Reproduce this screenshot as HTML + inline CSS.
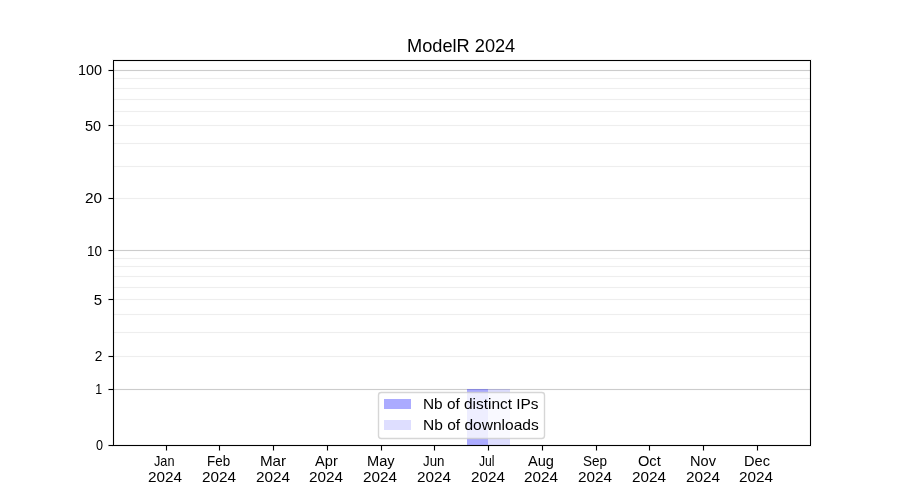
<!DOCTYPE html><html><head><meta charset="utf-8"><title>ModelR 2024</title><style>html,body{margin:0;padding:0;background:#fff;width:900px;height:500px;overflow:hidden}svg{display:block;position:absolute;left:0;top:0}svg.t{filter:grayscale(1)}text{font-family:"Liberation Sans", sans-serif;fill:#000}</style></head><body>
<svg width="900" height="500" viewBox="0 0 900 500">
<rect x="0" y="0" width="900" height="500" fill="#fff"/>
<rect x="113" y="355" width="698" height="3" fill="#fefefe"/>
<rect x="113" y="331" width="698" height="3" fill="#fefefe"/>
<rect x="113" y="313" width="698" height="3" fill="#fefefe"/>
<rect x="113" y="298" width="698" height="3" fill="#fefefe"/>
<rect x="113" y="286" width="698" height="3" fill="#fefefe"/>
<rect x="113" y="275" width="698" height="3" fill="#fefefe"/>
<rect x="113" y="265" width="698" height="3" fill="#fefefe"/>
<rect x="113" y="257" width="698" height="3" fill="#fefefe"/>
<rect x="113" y="197" width="698" height="3" fill="#fefefe"/>
<rect x="113" y="165" width="698" height="3" fill="#fefefe"/>
<rect x="113" y="142" width="698" height="3" fill="#fefefe"/>
<rect x="113" y="124" width="698" height="3" fill="#fefefe"/>
<rect x="113" y="110" width="698" height="3" fill="#fefefe"/>
<rect x="113" y="98" width="698" height="3" fill="#fefefe"/>
<rect x="113" y="87" width="698" height="3" fill="#fefefe"/>
<rect x="113" y="77" width="698" height="3" fill="#fefefe"/>
<rect x="113" y="388" width="698" height="3" fill="#fcfcfc"/>
<rect x="113" y="249" width="698" height="3" fill="#fcfcfc"/>
<rect x="113" y="69" width="698" height="3" fill="#fcfcfc"/>
<rect x="113" y="356" width="698" height="1" fill="#eee"/>
<rect x="113" y="332" width="698" height="1" fill="#eee"/>
<rect x="113" y="314" width="698" height="1" fill="#eee"/>
<rect x="113" y="299" width="698" height="1" fill="#eee"/>
<rect x="113" y="287" width="698" height="1" fill="#eee"/>
<rect x="113" y="276" width="698" height="1" fill="#eee"/>
<rect x="113" y="266" width="698" height="1" fill="#eee"/>
<rect x="113" y="258" width="698" height="1" fill="#eee"/>
<rect x="113" y="198" width="698" height="1" fill="#eee"/>
<rect x="113" y="166" width="698" height="1" fill="#eee"/>
<rect x="113" y="143" width="698" height="1" fill="#eee"/>
<rect x="113" y="125" width="698" height="1" fill="#eee"/>
<rect x="113" y="111" width="698" height="1" fill="#eee"/>
<rect x="113" y="99" width="698" height="1" fill="#eee"/>
<rect x="113" y="88" width="698" height="1" fill="#eee"/>
<rect x="113" y="78" width="698" height="1" fill="#eee"/>
<rect x="113" y="389" width="698" height="1" fill="#ccc"/>
<rect x="113" y="250" width="698" height="1" fill="#ccc"/>
<rect x="113" y="70" width="698" height="1" fill="#ccc"/>
<rect x="467" y="389" width="21" height="56" fill="#00f" fill-opacity="0.33"/>
<rect x="488" y="389" width="22" height="56" fill="#00f" fill-opacity="0.13"/>
<rect x="112" y="59" width="700" height="1" fill="#000" fill-opacity="0.055"/>
<rect x="112" y="61" width="700" height="1" fill="#000" fill-opacity="0.055"/>
<rect x="112" y="444" width="700" height="1" fill="#000" fill-opacity="0.055"/>
<rect x="112" y="446" width="700" height="1" fill="#000" fill-opacity="0.055"/>
<rect x="112" y="62" width="1" height="382" fill="#000" fill-opacity="0.055"/>
<rect x="114" y="62" width="1" height="382" fill="#000" fill-opacity="0.055"/>
<rect x="809" y="62" width="1" height="382" fill="#000" fill-opacity="0.055"/>
<rect x="811" y="62" width="1" height="382" fill="#000" fill-opacity="0.055"/>
<rect x="108" y="444" width="5" height="1" fill="#000" fill-opacity="0.055"/>
<rect x="108" y="446" width="5" height="1" fill="#000" fill-opacity="0.055"/>
<rect x="109" y="445" width="4" height="1" fill="#000"/>
<rect x="108" y="445" width="1" height="1" fill="#000" fill-opacity="0.5"/>
<rect x="108" y="388" width="5" height="1" fill="#000" fill-opacity="0.055"/>
<rect x="108" y="390" width="5" height="1" fill="#000" fill-opacity="0.055"/>
<rect x="109" y="389" width="4" height="1" fill="#000"/>
<rect x="108" y="389" width="1" height="1" fill="#000" fill-opacity="0.5"/>
<rect x="108" y="355" width="5" height="1" fill="#000" fill-opacity="0.055"/>
<rect x="108" y="357" width="5" height="1" fill="#000" fill-opacity="0.055"/>
<rect x="109" y="356" width="4" height="1" fill="#000"/>
<rect x="108" y="356" width="1" height="1" fill="#000" fill-opacity="0.5"/>
<rect x="108" y="298" width="5" height="1" fill="#000" fill-opacity="0.055"/>
<rect x="108" y="300" width="5" height="1" fill="#000" fill-opacity="0.055"/>
<rect x="109" y="299" width="4" height="1" fill="#000"/>
<rect x="108" y="299" width="1" height="1" fill="#000" fill-opacity="0.5"/>
<rect x="108" y="249" width="5" height="1" fill="#000" fill-opacity="0.055"/>
<rect x="108" y="251" width="5" height="1" fill="#000" fill-opacity="0.055"/>
<rect x="109" y="250" width="4" height="1" fill="#000"/>
<rect x="108" y="250" width="1" height="1" fill="#000" fill-opacity="0.5"/>
<rect x="108" y="197" width="5" height="1" fill="#000" fill-opacity="0.055"/>
<rect x="108" y="199" width="5" height="1" fill="#000" fill-opacity="0.055"/>
<rect x="109" y="198" width="4" height="1" fill="#000"/>
<rect x="108" y="198" width="1" height="1" fill="#000" fill-opacity="0.5"/>
<rect x="108" y="124" width="5" height="1" fill="#000" fill-opacity="0.055"/>
<rect x="108" y="126" width="5" height="1" fill="#000" fill-opacity="0.055"/>
<rect x="109" y="125" width="4" height="1" fill="#000"/>
<rect x="108" y="125" width="1" height="1" fill="#000" fill-opacity="0.5"/>
<rect x="108" y="69" width="5" height="1" fill="#000" fill-opacity="0.055"/>
<rect x="108" y="71" width="5" height="1" fill="#000" fill-opacity="0.055"/>
<rect x="109" y="70" width="4" height="1" fill="#000"/>
<rect x="108" y="70" width="1" height="1" fill="#000" fill-opacity="0.5"/>
<rect x="165" y="446" width="1" height="5" fill="#000" fill-opacity="0.055"/>
<rect x="167" y="446" width="1" height="5" fill="#000" fill-opacity="0.055"/>
<rect x="166" y="446" width="1" height="4" fill="#000"/>
<rect x="166" y="450" width="1" height="1" fill="#000" fill-opacity="0.5"/>
<rect x="218" y="446" width="1" height="5" fill="#000" fill-opacity="0.055"/>
<rect x="220" y="446" width="1" height="5" fill="#000" fill-opacity="0.055"/>
<rect x="219" y="446" width="1" height="4" fill="#000"/>
<rect x="219" y="450" width="1" height="1" fill="#000" fill-opacity="0.5"/>
<rect x="272" y="446" width="1" height="5" fill="#000" fill-opacity="0.055"/>
<rect x="274" y="446" width="1" height="5" fill="#000" fill-opacity="0.055"/>
<rect x="273" y="446" width="1" height="4" fill="#000"/>
<rect x="273" y="450" width="1" height="1" fill="#000" fill-opacity="0.5"/>
<rect x="326" y="446" width="1" height="5" fill="#000" fill-opacity="0.055"/>
<rect x="328" y="446" width="1" height="5" fill="#000" fill-opacity="0.055"/>
<rect x="327" y="446" width="1" height="4" fill="#000"/>
<rect x="327" y="450" width="1" height="1" fill="#000" fill-opacity="0.5"/>
<rect x="380" y="446" width="1" height="5" fill="#000" fill-opacity="0.055"/>
<rect x="382" y="446" width="1" height="5" fill="#000" fill-opacity="0.055"/>
<rect x="381" y="446" width="1" height="4" fill="#000"/>
<rect x="381" y="450" width="1" height="1" fill="#000" fill-opacity="0.5"/>
<rect x="433" y="446" width="1" height="5" fill="#000" fill-opacity="0.055"/>
<rect x="435" y="446" width="1" height="5" fill="#000" fill-opacity="0.055"/>
<rect x="434" y="446" width="1" height="4" fill="#000"/>
<rect x="434" y="450" width="1" height="1" fill="#000" fill-opacity="0.5"/>
<rect x="487" y="446" width="1" height="5" fill="#000" fill-opacity="0.055"/>
<rect x="489" y="446" width="1" height="5" fill="#000" fill-opacity="0.055"/>
<rect x="488" y="446" width="1" height="4" fill="#000"/>
<rect x="488" y="450" width="1" height="1" fill="#000" fill-opacity="0.5"/>
<rect x="541" y="446" width="1" height="5" fill="#000" fill-opacity="0.055"/>
<rect x="543" y="446" width="1" height="5" fill="#000" fill-opacity="0.055"/>
<rect x="542" y="446" width="1" height="4" fill="#000"/>
<rect x="542" y="450" width="1" height="1" fill="#000" fill-opacity="0.5"/>
<rect x="595" y="446" width="1" height="5" fill="#000" fill-opacity="0.055"/>
<rect x="597" y="446" width="1" height="5" fill="#000" fill-opacity="0.055"/>
<rect x="596" y="446" width="1" height="4" fill="#000"/>
<rect x="596" y="450" width="1" height="1" fill="#000" fill-opacity="0.5"/>
<rect x="648" y="446" width="1" height="5" fill="#000" fill-opacity="0.055"/>
<rect x="650" y="446" width="1" height="5" fill="#000" fill-opacity="0.055"/>
<rect x="649" y="446" width="1" height="4" fill="#000"/>
<rect x="649" y="450" width="1" height="1" fill="#000" fill-opacity="0.5"/>
<rect x="702" y="446" width="1" height="5" fill="#000" fill-opacity="0.055"/>
<rect x="704" y="446" width="1" height="5" fill="#000" fill-opacity="0.055"/>
<rect x="703" y="446" width="1" height="4" fill="#000"/>
<rect x="703" y="450" width="1" height="1" fill="#000" fill-opacity="0.5"/>
<rect x="756" y="446" width="1" height="5" fill="#000" fill-opacity="0.055"/>
<rect x="758" y="446" width="1" height="5" fill="#000" fill-opacity="0.055"/>
<rect x="757" y="446" width="1" height="4" fill="#000"/>
<rect x="757" y="450" width="1" height="1" fill="#000" fill-opacity="0.5"/>
<rect x="113" y="60" width="698" height="1" fill="#000"/>
<rect x="113" y="445" width="698" height="1" fill="#000"/>
<rect x="113" y="60" width="1" height="386" fill="#000"/>
<rect x="810" y="60" width="1" height="386" fill="#000"/>
<rect x="378.5" y="392.5" width="166" height="46" rx="2.8" ry="2.8" fill="#fff" fill-opacity="0.8" stroke="#ccc" stroke-opacity="0.8" stroke-width="1.39"/>
<rect x="384" y="399" width="27" height="10" fill="#00f" fill-opacity="0.33"/>
<rect x="384" y="420" width="27" height="10" fill="#00f" fill-opacity="0.13"/>
</svg>
<svg class="t" width="900" height="500" viewBox="0 0 900 500">
<text transform="translate(406.999,52) scale(1.001,1)" font-size="18.2">ModelR 2024</text>
<text transform="translate(96,450) scale(0.875,1)" font-size="14.4">0</text>
<text transform="translate(95.143,394) scale(0.857,1)" font-size="14.4">1</text>
<text transform="translate(94.689,361) scale(0.953,1)" font-size="14.4">2</text>
<text transform="translate(93.809,305) scale(1.042,1)" font-size="14.4">5</text>
<text transform="translate(87.067,256) scale(0.933,1)" font-size="14.4">10</text>
<text transform="translate(84.933,203) scale(1.067,1)" font-size="14.4">20</text>
<text transform="translate(84.929,131) scale(1.004,1)" font-size="14.4">50</text>
<text transform="translate(78,75) scale(1,1)" font-size="14.4">100</text>
<text transform="translate(154,466) scale(0.87,1)" font-size="14.6">Jan</text>
<text transform="translate(147.969,482) scale(1.063,1)" font-size="14.4">2024</text>
<text transform="translate(207.083,466) scale(0.917,1)" font-size="14.6">Feb</text>
<text transform="translate(201.969,482) scale(1.063,1)" font-size="14.4">2024</text>
<text transform="translate(259.958,466) scale(1.042,1)" font-size="14.6">Mar</text>
<text transform="translate(255.969,482) scale(1.063,1)" font-size="14.4">2024</text>
<text transform="translate(315,466) scale(1.002,1)" font-size="14.6">Apr</text>
<text transform="translate(308.969,482) scale(1.063,1)" font-size="14.4">2024</text>
<text transform="translate(366.999,466) scale(1.001,1)" font-size="14.6">May</text>
<text transform="translate(362.969,482) scale(1.063,1)" font-size="14.4">2024</text>
<text transform="translate(423,466) scale(0.913,1)" font-size="14.6">Jun</text>
<text transform="translate(416.969,482) scale(1.063,1)" font-size="14.4">2024</text>
<text transform="translate(479,466) scale(0.833,1)" font-size="14.6">Jul</text>
<text transform="translate(470.969,482) scale(1.063,1)" font-size="14.4">2024</text>
<text transform="translate(528,466) scale(1,1)" font-size="14.6">Aug</text>
<text transform="translate(523.969,482) scale(1.063,1)" font-size="14.4">2024</text>
<text transform="translate(583.031,466) scale(0.925,1)" font-size="14.6">Sep</text>
<text transform="translate(577.969,482) scale(1.063,1)" font-size="14.4">2024</text>
<text transform="translate(637.952,466) scale(1.002,1)" font-size="14.6">Oct</text>
<text transform="translate(631.969,482) scale(1.063,1)" font-size="14.4">2024</text>
<text transform="translate(690,466) scale(1,1)" font-size="14.6">Nov</text>
<text transform="translate(685.969,482) scale(1.063,1)" font-size="14.4">2024</text>
<text transform="translate(743.998,466) scale(1.002,1)" font-size="14.6">Dec</text>
<text transform="translate(738.969,482) scale(1.063,1)" font-size="14.4">2024</text>
<text transform="translate(422.944,409) scale(1.056,1)" font-size="14.6">Nb of distinct IPs</text>
<text transform="translate(422.935,430) scale(1.065,1)" font-size="14.6">Nb of downloads</text>
</svg></body></html>
